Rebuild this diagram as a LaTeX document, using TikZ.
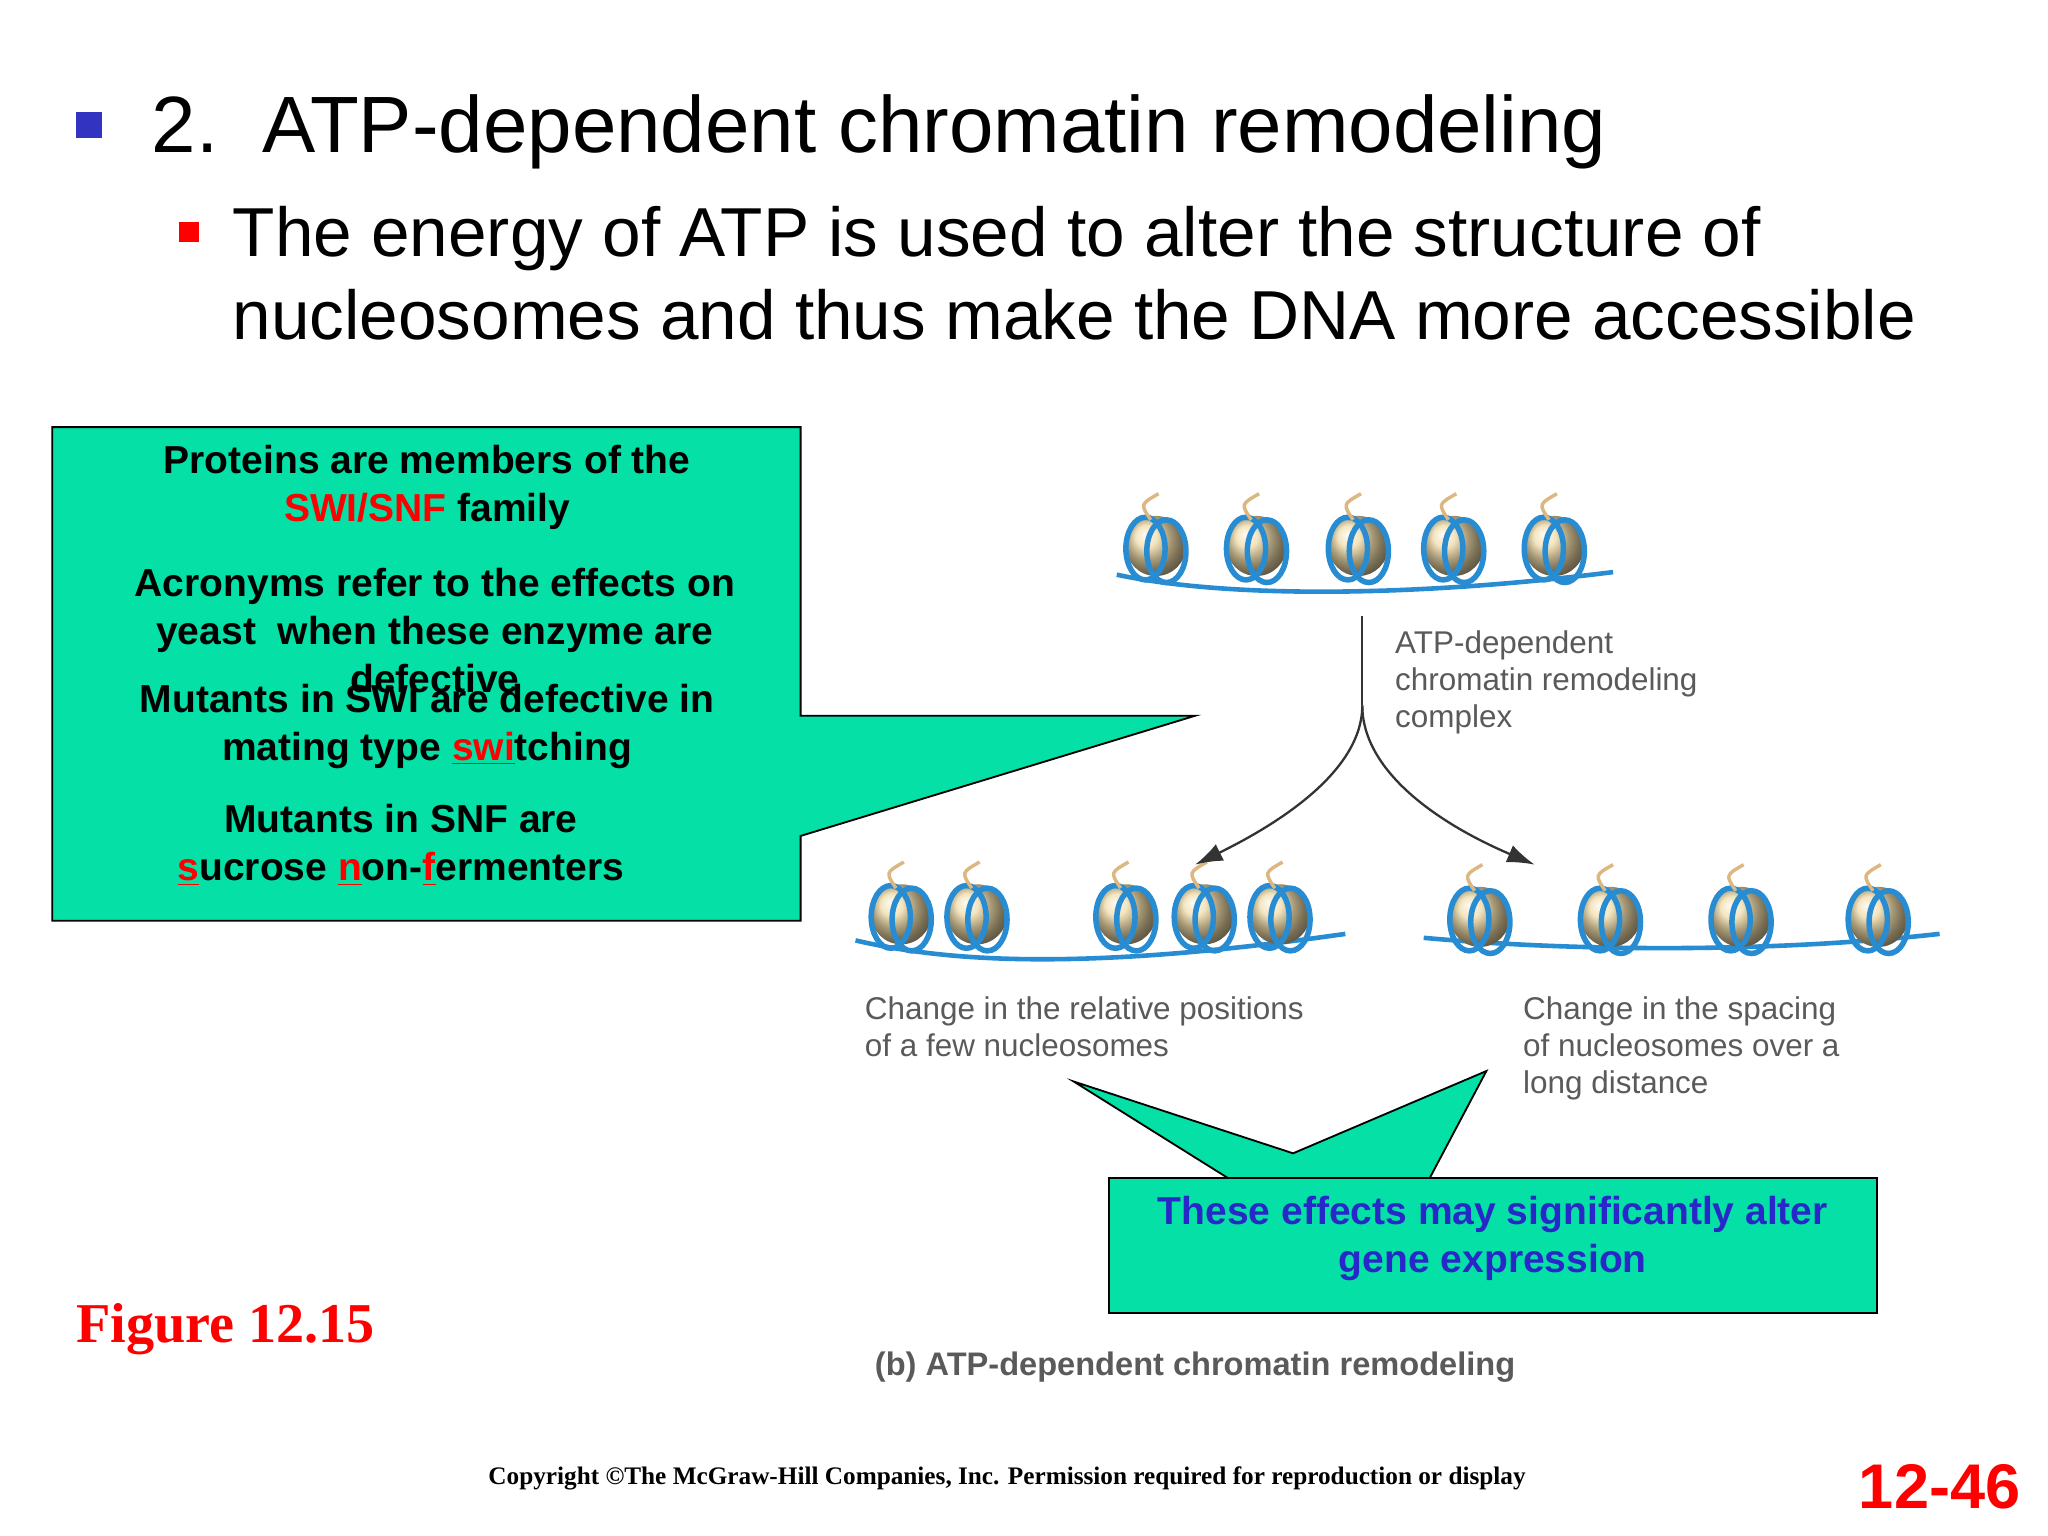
\documentclass[tikz,border=0pt]{standalone}
\usepackage{fontspec}
\setmainfont{Liberation Sans}
\newfontfamily\serifb{Liberation Serif}
\definecolor{callg}{RGB}{4,224,166}
\definecolor{dnab}{RGB}{40,140,210}
\definecolor{tan}{RGB}{240,220,170}
\definecolor{labg}{RGB}{90,90,90}
\definecolor{bluet}{RGB}{40,40,200}
\tikzset{px/.style={x=0.02cm,y=-0.02cm},
 callout/.style={fill=callg,draw=black,line width=0.8pt},
 gtxt/.style={font=\fontsize{17}{21}\selectfont\bfseries,align=center},
 lab/.style={font=\fontsize{13.7}{16}\selectfont,text=labg,align=left,anchor=north west},
 arr/.style={draw=black!80,line width=1pt,-{Latex[length=12pt,width=8pt]}}}
\usetikzlibrary{arrows.meta}
\newcommand{\nuc}[2]{%
 \shade[ball color=tan] (#1,#2) circle (23);
 \draw[dnab,line width=2.4pt] (#1-8,#2+2) ellipse (15 and 24);
 \draw[dnab,line width=2.4pt] (#1+8,#2+4) ellipse (15 and 24);
 \draw[tan!60!brown,line width=1.5pt] (#1-4,#2-20) .. controls (#1-12,#2-32) .. (#1+2,#2-40);
}
\begin{document}
\begin{tikzpicture}[px]
\fill[white] (0,0) rectangle (1568,1176);
\useasboundingbox (0,0) rectangle (1568,1176);
% title
\fill[blue!70!black!80] (58,86) rectangle (78,106);
\node[anchor=west,font=\fontsize{34.8}{40}\selectfont] (t1) at (110,101) {2.\ \ ATP-dependent chromatin remodeling};
\fill[red] (137,170) rectangle (152,185);
\node[anchor=north west,align=left,font=\fontsize{30.2}{36}\selectfont] (t2) at (172,152) {The energy of ATP is used to alter the structure of\\nucleosomes and thus make the DNA more accessible};
% callout 1
\draw[callout] (40,327) -- (613,327) -- (613,548) -- (915,548) -- (613,640) -- (613,705) -- (40,705) -- cycle;
\node[gtxt] (g1) at (327,373) {Proteins are members of the\\\textcolor{red}{SWI/SNF} family};
\node[gtxt] (g2) at (333,483) {Acronyms refer to the effects on\\yeast\ \ when these enzyme are\\defective};
\node[gtxt] (g3) at (327,556) {Mutants in SWI are defective in\\mating type \textcolor{red}{\underline{swi}}tching};
\node[gtxt] (g4) at (307,647) {Mutants in SNF are\\\textcolor{red}{\underline{s}}ucrose \textcolor{red}{\underline{n}}on-\textcolor{red}{\underline{f}}ermenters};
% DNA lines
\draw[dnab,line width=2pt] (855,440) .. controls (950,460) and (1100,455) .. (1235,438);
\draw[dnab,line width=2pt] (655,720) .. controls (720,735) and (820,745) .. (1030,715);
\draw[dnab,line width=2pt] (1090,718) .. controls (1200,728) and (1350,730) .. (1485,715);
\foreach \x in {885,962,1040,1113,1190} {\nuc{\x}{418}}
\foreach \x in {690,748,862,922,980} {\nuc{\x}{700}}
\foreach \x in {1133,1233,1333,1438} {\nuc{\x}{702}}
% arrows
\coordinate (s) at (1043,472);
\coordinate (m) at (1043,540);
\coordinate (el) at (915,662);
\coordinate (er) at (1175,662);
\draw[black!80,line width=1pt] (s) -- (m);
\draw[arr] (m) .. controls (1043,590) and (980,630) .. (el);
\draw[arr] (m) .. controls (1043,590) and (1100,630) .. (er);
\node[lab] (l1) at (1062,477) {ATP-dependent\\chromatin remodeling\\complex};
\node[lab] (l2) at (656,757) {Change in the relative positions\\of a few nucleosomes};
\node[lab] (l3) at (1160,757) {Change in the spacing\\of nucleosomes over a\\long distance};
% callout 2
\draw[callout] (945,905) -- (822,828) -- (990,883) -- (1138,820) -- (1093,905) -- cycle;
\draw[callout] (849,902) rectangle (1437,1005);
\node[gtxt] at (1143,948) {\textcolor{bluet}{These effects may significantly alter}\\\textcolor{bluet}{gene expression}};
\node[font=\fontsize{14.2}{16}\selectfont\bfseries,text=labg] (cap) at (915,1047) {(b) ATP-dependent chromatin remodeling};
\node[font=\serifb\fontsize{24.5}{28}\selectfont\bfseries,text=red,anchor=west] (fig) at (52,1018) {Figure 12.15};
\node[font=\serifb\fontsize{11}{13}\selectfont\bfseries] (cp) at (771,1132) {Copyright \textcopyright The McGraw-Hill Companies, Inc. Permission required for reproduction or display};
\node[font=\fontsize{27.5}{30}\selectfont\bfseries,text=red,anchor=east] (pn) at (1553,1138) {12-46};
\end{tikzpicture}
\end{document}
